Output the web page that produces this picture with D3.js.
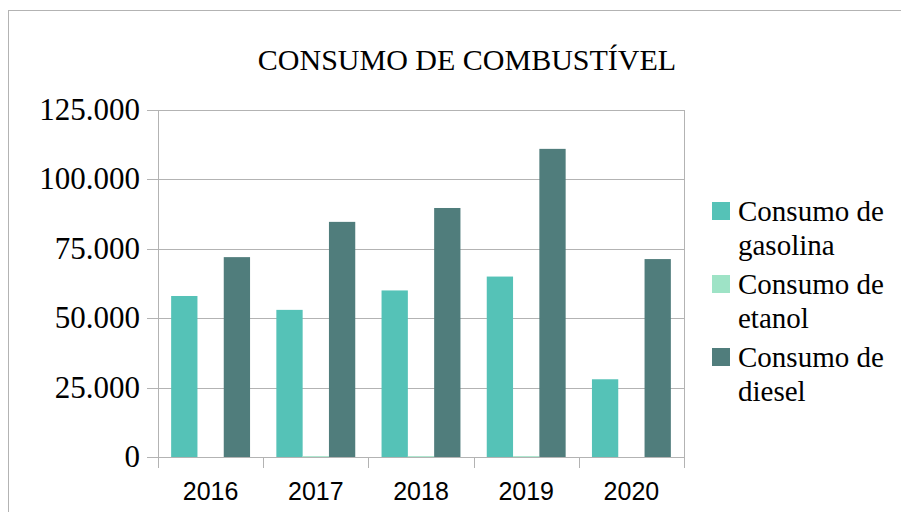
<!DOCTYPE html>
<html>
<head>
<meta charset="utf-8">
<script src="https://cdn.jsdelivr.net/npm/d3@7"></script>
<style>
  html, body { margin: 0; padding: 0; background: #fff; }
</style>
</head>
<body>
<div id="chart"></div>
<script>
// data
const years = ['2016', '2017', '2018', '2019', '2020'];
const seriesNames = ['Consumo de gasolina', 'Consumo de etanol', 'Consumo de diesel'];
const gasolina = [58000, 53000, 60000, 65000, 28000];
const etanol = [0, 300, 300, 300, 0];
const diesel = [72000, 84700, 89700, 111000, 71300];
const yTicks = [0, 25000, 50000, 75000, 100000, 125000];
const colors = ['#55c2b7', '#9ee3c6', '#507d7c'];

const W = 901, H = 512;
const plot = { left: 158, right: 684, top: 110, bottom: 457 };
const gridColor = '#b3b3b3';

const svg = d3.select('#chart').append('svg')
  .attr('width', W).attr('height', H);

// outer border (runs off the right and bottom edges)
svg.append('rect')
  .attr('x', 8.5).attr('y', 10.5)
  .attr('width', 1000).attr('height', 600)
  .attr('fill', 'none').attr('stroke', gridColor);

svg.append('text')
  .attr('x', 467).attr('y', 70)
  .attr('text-anchor', 'middle')
  .attr('font-family', 'Liberation Serif')
  .attr('font-size', 30)
  .text('CONSUMO DE COMBUSTÍVEL');

const x = d3.scaleBand().domain(years).range([plot.left, plot.right]).padding(0);
const y = d3.scaleLinear().domain([0, 125000]).range([plot.bottom, plot.top]);
const bw = x.bandwidth();
const xs = d3.scaleBand().domain(d3.range(seriesNames.length))
  .range([bw / 8, bw - bw / 8]).padding(0);

const fmt = v => v === 0 ? '0' : d3.format(',')(v).replace(/,/g, '.');

// gridlines
svg.append('g').selectAll('line').data(yTicks).join('line')
  .attr('x1', plot.left - 11).attr('x2', plot.right)
  .attr('y1', d => Math.round(y(d)) + 0.5).attr('y2', d => Math.round(y(d)) + 0.5)
  .attr('stroke', gridColor);

// plot side lines
[plot.left, plot.right].forEach(px => {
  svg.append('line')
    .attr('x1', px + 0.5).attr('x2', px + 0.5)
    .attr('y1', plot.top).attr('y2', plot.bottom + 11)
    .attr('stroke', gridColor);
});

// x tick marks at category boundaries
const bounds = years.map(d => x(d)).concat([plot.right]);
svg.append('g').selectAll('line').data(bounds).join('line')
  .attr('x1', d => Math.round(d) + 0.5).attr('x2', d => Math.round(d) + 0.5)
  .attr('y1', plot.bottom).attr('y2', plot.bottom + 11)
  .attr('stroke', gridColor);

// y labels
svg.append('g').selectAll('text').data(yTicks).join('text')
  .attr('x', 140).attr('y', d => y(d) + 10)
  .attr('text-anchor', 'end')
  .attr('font-family', 'Liberation Serif')
  .attr('font-size', 31)
  .text(fmt);

// x labels
svg.append('g').selectAll('text').data(years).join('text')
  .attr('x', d => x(d) + bw / 2).attr('y', 500)
  .attr('text-anchor', 'middle')
  .attr('font-family', 'Liberation Sans')
  .attr('font-size', 25)
  .text(d => d);

// bars
const allSeries = [gasolina, etanol, diesel];
allSeries.forEach((vals, si) => {
  svg.append('g').selectAll('rect').data(vals).join('rect')
    .attr('x', (d, i) => x(years[i]) + xs(si))
    .attr('width', xs.bandwidth())
    .attr('y', d => y(d))
    .attr('height', d => y(0) - y(d))
    .attr('fill', colors[si]);
});

// legend
const legend = svg.append('g');
seriesNames.forEach((name, i) => {
  const base = 221 + i * 73;
  legend.append('rect')
    .attr('x', 712).attr('y', base - 19)
    .attr('width', 18).attr('height', 18)
    .attr('fill', colors[i]);
  const words = name.split(' ');
  const t = legend.append('text')
    .attr('font-family', 'Liberation Serif')
    .attr('font-size', 29);
  t.append('tspan').attr('x', 738).attr('y', base).text(words.slice(0, 2).join(' '));
  t.append('tspan').attr('x', 738).attr('y', base + 34).text(words.slice(2).join(' '));
});
</script>
</body>
</html>
